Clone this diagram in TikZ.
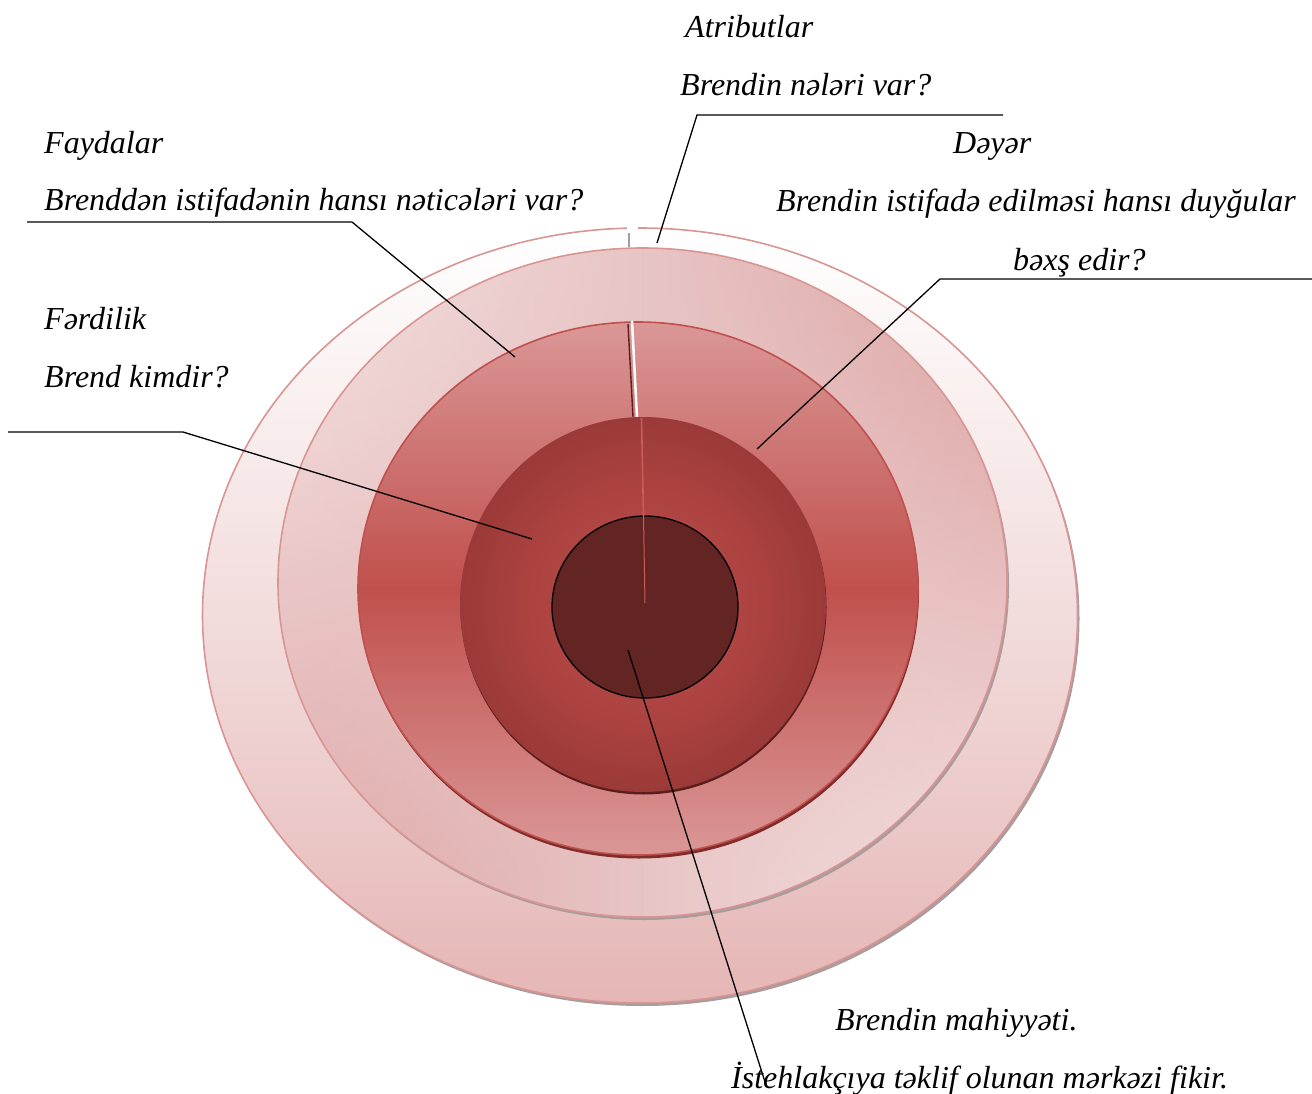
\documentclass[tikz,border=0pt]{standalone}
\usepackage{fontspec}
\setmainfont{Liberation Serif}
\usetikzlibrary{calc,fadings}

\definecolor{rimA}{HTML}{D99594}
\definecolor{shadeGrey}{HTML}{A89C9C}
\definecolor{outerTop}{HTML}{FFFFFF}
\definecolor{outerMid}{HTML}{F2DCDC}
\definecolor{outerBot}{HTML}{E5B6B5}
\definecolor{midLight}{HTML}{F4E0E0}
\definecolor{midDark}{HTML}{DDA5A4}
\definecolor{midTone}{HTML}{E8C5C5}
\definecolor{bandEdge}{HTML}{DA9796}
\definecolor{bandCore}{HTML}{C0504D}
\definecolor{bandShadow}{HTML}{7F2C2A}
\definecolor{coreIn}{HTML}{BC4C49}
\definecolor{coreMid}{HTML}{AE4442}
\definecolor{coreOut}{HTML}{9B3A38}
\definecolor{coreShadow}{HTML}{5A1E1D}
\definecolor{heart}{HTML}{632523}
\definecolor{slit}{HTML}{5A1E1D}
\definecolor{glint}{HTML}{C85D5A}

% gradients of the rings (the central 50bp of each shading spans the shape)
\pgfdeclareverticalshading{outerband}{100bp}{%
  color(0bp)=(outerBot); color(25bp)=(outerBot); color(50bp)=(outerMid);
  color(75bp)=(outerTop); color(100bp)=(outerTop)}
\pgfdeclareverticalshading{halfup}{100bp}{%
  color(0bp)=(midDark); color(25bp)=(midDark); color(75bp)=(midLight); color(100bp)=(midLight)}
\pgfdeclareverticalshading{halfdown}{100bp}{%
  color(0bp)=(midLight); color(25bp)=(midLight); color(75bp)=(midDark); color(100bp)=(midDark)}
\pgfdeclareverticalshading{redband}{100bp}{%
  color(0bp)=(bandEdge); color(25bp)=(bandEdge); color(50bp)=(bandCore);
  color(75bp)=(bandEdge); color(100bp)=(bandEdge)}
\pgfdeclareradialshading{coreglow}{\pgfpoint{0bp}{0bp}}{%
  color(0bp)=(coreIn); color(14bp)=(coreMid); color(25bp)=(coreOut); color(50bp)=(coreOut)}

\tikzset{
  lbl/.style={anchor=base west, inner sep=0pt, font=\fontsize{32}{38}\selectfont\itshape},
  leader/.style={draw=black, line width=1.3pt},
}

\begin{document}
\begin{tikzpicture}[x=1pt, y=-1pt]
\useasboundingbox (0,0) rectangle (1312,1094);

% centres of the rings
\coordinate (c1) at (640,615.5);
\coordinate (c2) at (642.5,582.5);
\coordinate (c3) at (638,588.5);
\coordinate (c4) at (643,604.5);
\coordinate (c5) at (645,607);

% outer ring: attributes
\fill[shadeGrey] ($(c1)+(2,3)$) ellipse [x radius=437.5pt, y radius=387.5pt];
\shade[shading=outerband] (c1) ellipse [x radius=437.5pt, y radius=387.5pt];
\draw[rimA, line width=1.6pt] (c1) ellipse [x radius=437.5pt, y radius=387.5pt];

% second ring: value and benefits, two halves with mirrored gradients
% that blend into a common tone along the seam
\fill[shadeGrey] ($(c2)+(2,3)$) ellipse [x radius=364.5pt, y radius=334.5pt];
\shade[shading=halfup, shading angle=15]
  (642.5,248) arc[start angle=90, end angle=270, x radius=364.5pt, y radius=334.5pt] -- cycle;
\fill[midTone, path fading=west]
  (642.5,248) arc[start angle=90, end angle=270, x radius=364.5pt, y radius=334.5pt] -- cycle;
\shade[shading=halfdown, shading angle=-15]
  (642.5,248) arc[start angle=90, end angle=-90, x radius=364.5pt, y radius=334.5pt] -- cycle;
\fill[midTone, path fading=east]
  (642.5,248) arc[start angle=90, end angle=-90, x radius=364.5pt, y radius=334.5pt] -- cycle;
\draw[rimA, line width=1.6pt] (c2) ellipse [x radius=364.5pt, y radius=334.5pt];

% gap in the outer ring at the top
\fill[white] (627,226) rectangle (638,247);
\draw[shadeGrey, line width=1.5pt] (629,233) -- (629,247);

% third ring: personality
\fill[bandShadow] ($(c3)+(1,3.5)$) ellipse [x radius=280pt, y radius=266.5pt];
\shade[shading=redband] (c3) ellipse [x radius=280pt, y radius=266.5pt];
\draw[bandCore, line width=1.6pt] (c3) ellipse [x radius=280pt, y radius=266.5pt];

% slit in the third ring
\draw[white, line width=2.5pt] (632,321) -- (637,417);
\draw[slit, line width=1.4pt] (628,324) -- (633,417);

% fourth ring
\fill[coreShadow] ($(c4)+(0.5,2.5)$) ellipse [x radius=183pt, y radius=187.5pt];
\shade[shading=coreglow] (c4) ellipse [x radius=183pt, y radius=187.5pt];

% core: essence of the brand
\fill[heart, draw=black, line width=1.3pt] (c5) ellipse [x radius=93pt, y radius=91pt];
\draw[glint, line width=1.6pt] (641.5,418) -- (643.5,516);
\draw[glint, line width=1pt] (643.5,516) -- (645,603);

% labels
\node[lbl] (atr)   at (685,38)  {Atributlar};
\node[lbl] (atrq)  at (680,96)  {Brendin nələri var?};
\node[lbl] (dey)   at (953,154) {Dəyər};
\node[lbl] (deyq)  at (776,212) {Brendin istifadə edilməsi hansı duyğular};
\node[lbl] (deyq2) at (1013,270) {bəxş edir?};
\node[lbl] (fay)   at (44,154)  {Faydalar};
\node[lbl] (fayq)  at (44,211)  {Brenddən istifadənin hansı nəticələri var?};
\node[lbl] (fer)   at (44,329)  {Fərdilik};
\node[lbl] (ferq)  at (44,387)  {Brend kimdir?};
\node[lbl] (mah)   at (835,1030) {Brendin mahiyyəti.};
\node[lbl] (mahq)  at (731,1088) {İstehlakçıya təklif olunan mərkəzi fikir.};

% leader lines
\coordinate (atrA) at (1003,115);
\coordinate (atrB) at (697,115);
\coordinate (atrC) at (657,243);
\draw[leader] (atrA) -- (atrB) -- (atrC);

\coordinate (deyA) at (1312,279);
\coordinate (deyB) at (940,279);
\coordinate (deyC) at (757,449);
\draw[leader] (deyA) -- (deyB) -- (deyC);

\coordinate (fayA) at (27,222);
\coordinate (fayB) at (352,222);
\coordinate (fayC) at (515,357);
\draw[leader] (fayA) -- (fayB) -- (fayC);

\coordinate (ferA) at (8,432);
\coordinate (ferB) at (183,432);
\coordinate (ferC) at (532,539);
\draw[leader] (ferA) -- (ferB) -- (ferC);

\coordinate (mahA) at (628,650);
\coordinate (mahB) at (765,1082);
\draw[leader] (mahA) -- (mahB);

\end{tikzpicture}
\end{document}
